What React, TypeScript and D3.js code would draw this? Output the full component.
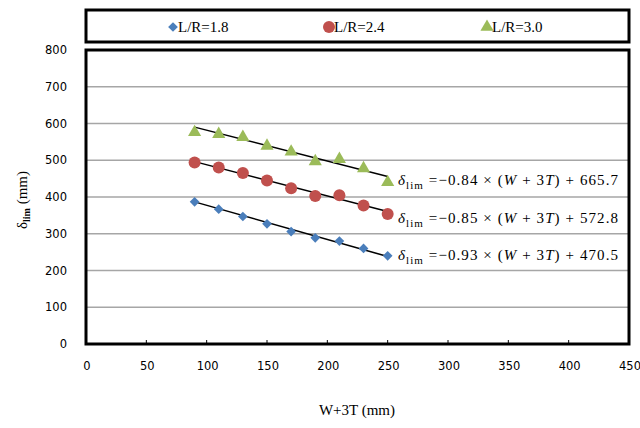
import React from 'react';
import * as d3 from 'd3';

// W+3T (mm)
const xValues = [90, 110, 130, 150, 170, 190, 210, 230, 250];
const seriesNames = ['L/R=1.8', 'L/R=2.4', 'L/R=3.0'];
const lr18 = [387, 367, 347, 327, 306, 289, 280, 260, 240];
const lr24 = [494, 480, 465, 445, 424, 403, 405, 377, 354];
const lr30 = [576, 571, 563, 539, 523, 497, 503, 478, 440];
// fitted lines shown on the chart
const slopes = [-0.93, -0.85, -0.84];
const intercepts = [470.5, 572.8, 665.7];
const xTicks = [0, 50, 100, 150, 200, 250, 300, 350, 400, 450];
const yTicks = [0, 100, 200, 300, 400, 500, 600, 700, 800];

const colors = ['#4A7EBB', '#C0504D', '#9BBB59'];
const serif = '"Liberation Serif", "DejaVu Serif", serif';
const sans = '"DejaVu Sans", "Liberation Sans", sans-serif';

const margin = { top: 50, right: 11, bottom: 84, left: 86 };
const W = 640, H = 428;

function Marker({ kind, x, y, color }: { kind: number; x: number; y: number; color: string }) {
  if (kind === 0) {
    const s = d3.symbol().type(d3.symbolDiamond2).size(60)();
    return <path d={s || ''} transform={`translate(${x},${y})`} fill={color} />;
  }
  if (kind === 1) return <circle cx={x} cy={y} r={6} fill={color} />;
  const t = d3.symbol().type(d3.symbolTriangle).size(75)();
  return <path d={t || ''} transform={`translate(${x},${y})`} fill={color} />;
}

export default function App() {
  const x = d3.scaleLinear().domain([0, 450]).range([margin.left, W - margin.right]);
  const y = d3.scaleLinear().domain([0, 800]).range([H - margin.bottom, margin.top]);
  const series = [lr18, lr24, lr30];
  const line = d3.line<number[]>().x(d => x(d[0])).y(d => y(d[1]));
  const ends = [xValues[0], xValues[xValues.length - 1]];

  const eqY = [185, 223, 260];
  const eqOrder = [2, 1, 0];

  return (
    <svg width={W} height={H} style={{ position: 'absolute', left: 0, top: 0, background: '#fff' }}>
      {/* legend */}
      <rect x={86} y={10} width={543} height={32} fill="#fff" stroke="#000" strokeWidth={3} />
      {seriesNames.map((n, i) => {
        const lx = [173, 329, 487][i];
        return (
          <g key={n}>
            <Marker kind={i} x={lx} y={27} color={colors[i]} />
            <text x={lx + 5} y={32} fontFamily={serif} fontSize={15}>{n}</text>
          </g>
        );
      })}

      {/* gridlines */}
      {yTicks.slice(1).map(t => (
        <line key={t} x1={x(0)} x2={x(450)} y1={y(t)} y2={y(t)} stroke="#A6A6A6" strokeWidth={1.5} />
      ))}
      {xTicks.slice(1, -1).map(t => (
        <line key={t} x1={x(t)} x2={x(t)} y1={y(0)} y2={y(0) - 4} stroke="#000" strokeWidth={1} />
      ))}
      <rect x={x(0)} y={y(800)} width={x(450) - x(0)} height={y(0) - y(800)} fill="none" stroke="#000" strokeWidth={3} />

      {/* tick labels */}
      {yTicks.map(t => (
        <text key={t} x={67} y={y(t) + 4} textAnchor="end" fontFamily={sans} fontSize={11.5} fill="#000">{t}</text>
      ))}
      {xTicks.map(t => (
        <text key={t} x={x(t) + 1} y={370} textAnchor="middle" fontFamily={sans} fontSize={11.5} fill="#000">{t}</text>
      ))}

      {/* axis titles */}
      <text x={357} y={415} textAnchor="middle" fontFamily={serif} fontSize={15}>W+3T (mm)</text>
      <text transform="translate(27,200) rotate(-90)" textAnchor="middle" fontFamily={serif} fontSize={15}>
        δ<tspan fontSize={10} dy={3} fontWeight="bold">lim</tspan><tspan dy={-3}> (mm)</tspan>
      </text>

      {/* trend lines */}
      {slopes.map((m, i) => (
        <path key={i}
          d={line(ends.map(v => [v, m * v + intercepts[i]])) || ''}
          stroke="#000" strokeWidth={1.5} fill="none" />
      ))}

      {/* points */}
      {series.map((s, i) => (
        <g key={i}>
          {s.map((v, j) => (
            <Marker key={j} kind={i} x={x(xValues[j])} y={y(v)} color={colors[i]} />
          ))}
        </g>
      ))}

      {/* equations */}
      {eqOrder.map((i, k) => (
        <text key={i} x={398} y={eqY[k]} fontFamily={serif} fontSize={15} fill="#000"
          textLength={220} lengthAdjust="spacing">
          <tspan fontStyle="italic">δ</tspan>
          <tspan fontSize={11} dy={4}>lim</tspan>
          <tspan dy={-4}> =−{Math.abs(slopes[i]).toFixed(2)} × (</tspan>
          <tspan fontStyle="italic">W</tspan>
          <tspan> + 3</tspan>
          <tspan fontStyle="italic">T</tspan>
          <tspan>) + {intercepts[i].toFixed(1)}</tspan>
        </text>
      ))}
    </svg>
  );
}
